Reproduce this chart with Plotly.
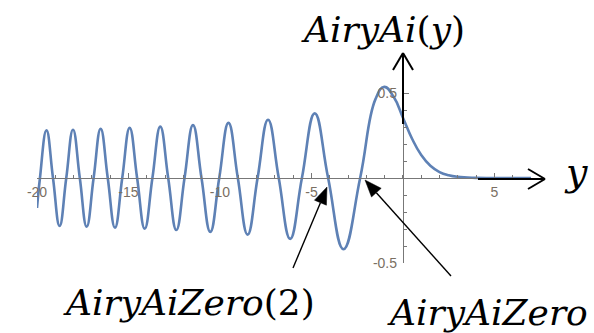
import math
import plotly.graph_objects as go

# Airy Ai(y): turning points and zeros across the plotted window, plus the decaying tail
y_vals = [-20.0, -19.838, -19.483, -19.126, -18.765, -18.401, -18.032, -17.661,
          -17.285, -16.906, -16.521, -16.133, -15.738, -15.341, -14.936, -14.528,
          -14.112, -13.692, -13.262, -12.829, -12.385, -11.936, -11.475, -11.009,
          -10.528, -10.040, -9.535, -9.023, -8.489, -7.944, -7.372, -6.787,
          -6.163, -5.521, -4.820, -4.088, -3.248, -2.338, -1.5, -1.019, -0.5,
          0.0, 0.5, 1.0, 1.5, 2.0, 2.5, 3.0, 4.0, 5.0, 7.0]
ai_vals = [-0.176, 0.0, 0.280, 0.0, -0.282, 0.0, 0.284, 0.0,
           -0.286, 0.0, 0.289, 0.0, -0.292, 0.0, 0.295, 0.0,
           -0.298, 0.0, 0.302, 0.0, -0.306, 0.0, 0.311, 0.0,
           -0.317, 0.0, 0.324, 0.0, -0.333, 0.0, 0.343, 0.0,
           -0.358, 0.0, 0.380, 0.0, -0.419, 0.0, 0.464, 0.536, 0.476,
           0.355, 0.231, 0.135, 0.072, 0.035, 0.016, 0.0066, 0.001, 0.0001, 0.0]

x_tick_vals = [-20, -15, -10, -5, 5]
x_tick_text = ["-20", "-15", "-10", "-5", "5"]
y_tick_vals = [-0.5, 0.5]
y_tick_text = ["-0.5", "0.5"]

W, H = 594, 333
AXIS_GRAY = "#777777"
LABEL_COLOR = "#7a6f63"
CURVE_BLUE = "#5E81B5"
MATH_FONT = "DejaVu Serif"
TICK_FONT = dict(family="Liberation Sans", size=14, color=LABEL_COLOR)


def px(x):
    return x / W


def py(y):
    return 1 - y / H


fig = go.Figure()
fig.add_trace(go.Scatter(
    x=y_vals, y=ai_vals, mode="lines",
    line=dict(color=CURVE_BLUE, width=2.6, shape="spline", smoothing=1.3),
    hoverinfo="skip", showlegend=False,
))

fig.update_layout(
    width=W, height=H,
    margin=dict(l=0, r=0, t=0, b=0),
    paper_bgcolor="white", plot_bgcolor="rgba(0,0,0,0)",
    showlegend=False,
)
fig.update_xaxes(
    domain=[px(37), px(531)], range=[-20, 7],
    anchor="free", position=py(178),
    showline=True, linecolor=AXIS_GRAY, linewidth=1.3,
    ticks="inside", ticklen=5, tickwidth=1, tickcolor=AXIS_GRAY,
    tickmode="array", tickvals=x_tick_vals, ticktext=x_tick_text,
    tickfont=TICK_FONT, ticklabelstandoff=1,
    minor=dict(ticks="inside", ticklen=3, tickwidth=1, tickcolor=AXIS_GRAY,
               tick0=0, dtick=1, showgrid=False),
    showgrid=False, zeroline=False, automargin=False, fixedrange=True,
)
fig.update_yaxes(
    domain=[py(263), py(76)], range=[-0.5, 0.6],
    anchor="free", position=px(403),
    showline=True, linecolor=AXIS_GRAY, linewidth=1.3,
    ticks="inside", ticklen=5, tickwidth=1, tickcolor=AXIS_GRAY,
    tickmode="array", tickvals=y_tick_vals, ticktext=y_tick_text,
    tickfont=TICK_FONT, ticklabelstandoff=3,
    minor=dict(ticks="inside", ticklen=3, tickwidth=1, tickcolor=AXIS_GRAY,
               tick0=0, dtick=0.1, showgrid=False),
    showgrid=False, zeroline=False, automargin=False, fixedrange=True,
)

shapes = []


def line(x0, y0, x1, y1, width=1.6):
    shapes.append(dict(type="line", xref="paper", yref="paper",
                       x0=px(x0), y0=py(y0), x1=px(x1), y1=py(y1),
                       line=dict(color="black", width=width)))


def open_arrow(tail, tip, head_len=17, half_w=10, width=1.6):
    (tx, ty), (hx, hy) = tail, tip
    d = math.hypot(hx - tx, hy - ty)
    ux, uy = (hx - tx) / d, (hy - ty) / d
    nx, ny = -uy, ux
    line(tx, ty, hx, hy, width)
    bx, by = hx - head_len * ux, hy - head_len * uy
    line(hx, hy, bx + half_w * nx, by + half_w * ny, width)
    line(hx, hy, bx - half_w * nx, by - half_w * ny, width)


def solid_arrow(tail, tip, head_len=17, half_w=6.5, width=1.4):
    (tx, ty), (hx, hy) = tail, tip
    d = math.hypot(hx - tx, hy - ty)
    ux, uy = (hx - tx) / d, (hy - ty) / d
    nx, ny = -uy, ux
    bx, by = hx - head_len * ux, hy - head_len * uy
    line(tx, ty, bx, by, width)
    pts = [(hx, hy), (bx + half_w * nx, by + half_w * ny), (bx - half_w * nx, by - half_w * ny)]
    path = "M " + " L ".join(f"{px(a):.5f},{py(b):.5f}" for a, b in pts) + " Z"
    shapes.append(dict(type="path", xref="paper", yref="paper", path=path,
                       fillcolor="black", line=dict(color="black", width=0.5)))


# axis arrows
open_arrow((403, 124), (403, 53), head_len=17, half_w=10, width=2)
open_arrow((478, 179), (545, 179), head_len=17, half_w=10, width=2)
# pointers to the first two zeros
solid_arrow((293, 268), (327, 187))
solid_arrow((451, 276), (365, 180))

fig.update_layout(shapes=shapes)


def label(text, xc, yc, size):
    fig.add_annotation(text=text, xref="paper", yref="paper",
                       x=px(xc), y=py(yc), xanchor="center", yanchor="middle",
                       showarrow=False,
                       font=dict(family=MATH_FONT, size=size, color="black"))


label("<i>AiryAi</i>(<i>y</i>)", 383, 29, 36)
label("<i>y</i>", 576, 172, 38)
label("<i>AiryAiZero</i>(2)", 189, 302, 36)
label("<i>AiryAiZero</i>", 487, 312, 36)

fig.write_html("out.html")
